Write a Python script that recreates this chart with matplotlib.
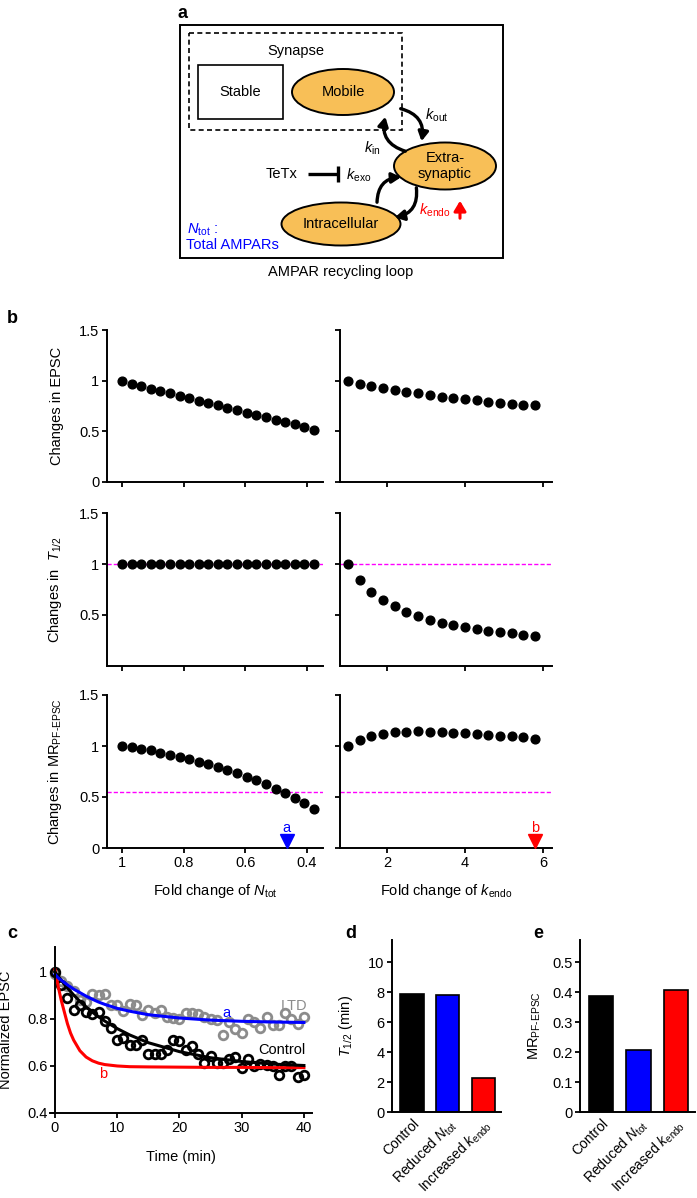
import matplotlib
matplotlib.use("Agg")
import matplotlib.pyplot as plt
from matplotlib.patches import Ellipse, Rectangle, FancyArrowPatch
from matplotlib.ticker import FuncFormatter

plt.rcParams['font.family'] = ['Liberation Sans', 'DejaVu Sans']
plt.rcParams['mathtext.fontset'] = 'custom'
plt.rcParams['mathtext.rm'] = 'Liberation Sans'
plt.rcParams['mathtext.it'] = 'Liberation Sans:italic'
plt.rcParams['mathtext.bf'] = 'Liberation Sans:bold'
plt.rcParams['font.size'] = 10.5
plt.rcParams['axes.linewidth'] = 1.4
plt.rcParams['xtick.major.width'] = 1.3
plt.rcParams['ytick.major.width'] = 1.3
plt.rcParams['xtick.major.size'] = 3.5
plt.rcParams['ytick.major.size'] = 3.5

# ---- panel b data ----
ntot_fold = [1.000, 0.969, 0.938, 0.907, 0.876, 0.845, 0.813, 0.782, 0.751, 0.720, 0.689,
             0.658, 0.627, 0.595, 0.564, 0.533, 0.502, 0.471, 0.440, 0.409, 0.378]
epsc_ntot = [1.00, 0.967, 0.944, 0.918, 0.902, 0.879, 0.853, 0.827, 0.804, 0.778, 0.758,
             0.732, 0.709, 0.683, 0.663, 0.637, 0.614, 0.592, 0.569, 0.546, 0.516]
thalf_ntot = [1.0, 1.0, 1.0, 1.0, 1.0, 1.0, 1.0, 1.0, 1.0, 1.0, 1.0,
              1.0, 1.0, 1.0, 1.0, 1.0, 1.0, 1.0, 1.0, 1.0, 1.0]
mr_ntot = [1.00, 0.987, 0.974, 0.957, 0.934, 0.914, 0.891, 0.868, 0.845, 0.819, 0.793,
           0.766, 0.734, 0.697, 0.664, 0.625, 0.582, 0.539, 0.493, 0.441, 0.382]

kendo_fold = [1.0, 1.3, 1.6, 1.9, 2.2, 2.5, 2.8, 3.1, 3.4, 3.7, 4.0, 4.3, 4.6, 4.9, 5.2, 5.5, 5.8]
epsc_kendo = [1.00, 0.971, 0.948, 0.928, 0.908, 0.892, 0.876, 0.859, 0.843, 0.830, 0.817,
              0.807, 0.794, 0.781, 0.771, 0.761, 0.755]
thalf_kendo = [1.00, 0.84, 0.73, 0.645, 0.585, 0.53, 0.49, 0.451, 0.425, 0.402, 0.385,
               0.363, 0.346, 0.333, 0.320, 0.307, 0.297]
mr_kendo = [1.00, 1.063, 1.099, 1.118, 1.135, 1.141, 1.145, 1.141, 1.138, 1.132, 1.125,
            1.118, 1.109, 1.102, 1.095, 1.086, 1.073]

thalf_ref = 1.0
mr_threshold = 0.55
a_fold = 0.466
b_fold = 5.8

# ---- panel c data ----
time_min = list(range(0, 41))
control_epsc = [1.00, 0.945, 0.89, 0.84, 0.86, 0.83, 0.82, 0.83, 0.79, 0.76, 0.71,
                0.72, 0.69, 0.69, 0.71, 0.65, 0.65, 0.65, 0.666, 0.71, 0.705,
                0.668, 0.687, 0.65, 0.612, 0.643, 0.612, 0.612, 0.63, 0.64, 0.59,
                0.63, 0.598, 0.608, 0.605, 0.60, 0.562, 0.598, 0.598, 0.553, 0.562]
ltd_epsc = [0.99, 0.96, 0.94, 0.92, 0.88, 0.87, 0.905, 0.90, 0.905, 0.86, 0.86,
            0.835, 0.865, 0.86, 0.817, 0.84, 0.825, 0.838, 0.81, 0.806, 0.80,
            0.825, 0.825, 0.82, 0.81, 0.80, 0.795, 0.73, 0.785, 0.756, 0.742,
            0.80, 0.785, 0.763, 0.81, 0.774, 0.774, 0.825, 0.80, 0.778, 0.81]
fit_t = [0, 0.5, 1, 1.5, 2, 2.5, 3, 4, 5, 6, 7, 8, 10, 12, 15, 20, 25, 30, 35, 40]
control_fit = [1.0, 0.982, 0.965, 0.948, 0.932, 0.917, 0.902, 0.875, 0.851, 0.829, 0.809,
               0.791, 0.759, 0.732, 0.699, 0.661, 0.635, 0.619, 0.608, 0.602]
ntot_fit = [0.99, 0.975, 0.965, 0.955, 0.945, 0.936, 0.927, 0.912, 0.897, 0.884, 0.872,
            0.862, 0.845, 0.833, 0.818, 0.804, 0.795, 0.790, 0.787, 0.785]
kendo_fit = [1.01, 0.94, 0.88, 0.83, 0.78, 0.74, 0.71, 0.665, 0.638, 0.622, 0.612,
             0.606, 0.600, 0.597, 0.596, 0.595, 0.594, 0.594, 0.593, 0.593]

# ---- panels d, e data ----
conditions = ['Control', 'Reduced $N_{\\rm tot}$', 'Increased $k_{\\rm endo}$']
bar_colors = ['#000000', '#0000FF', '#FF0000']
thalf_min = [7.87, 7.82, 2.27]
mr_values = [0.388, 0.208, 0.408]

W, H = 697, 1198
fig = plt.figure(figsize=(W / 100, H / 100), dpi=100)


def px_box(x0, y0, x1, y1):
    return [x0 / W, 1 - y1 / H, (x1 - x0) / W, (y1 - y0) / H]


fmt = FuncFormatter(lambda v, p: f'{v:g}')


def clean(ax):
    ax.spines['top'].set_visible(False)
    ax.spines['right'].set_visible(False)
    ax.tick_params(direction='out', length=3.5, pad=2)


# ---------------- panel a (diagram) ----------------
ax_a = fig.add_axes(px_box(170, 0, 510, 280))
ax_a.set_xlim(170, 510)
ax_a.set_ylim(280, 0)
ax_a.axis('off')
orange = '#F8BF57'
ax_a.add_patch(Rectangle((180, 25), 323, 233, fill=False, lw=1.4, ec='k'))
ax_a.add_patch(Rectangle((189, 33), 213, 97, fill=False, lw=1.2, ec='k', ls=(0, (3, 2))))
ax_a.add_patch(Rectangle((198, 65), 85, 54, fill=False, lw=1.2, ec='k'))
ax_a.add_patch(Ellipse((343, 92), 102, 46, fc=orange, ec='k', lw=1.4))
ax_a.add_patch(Ellipse((445, 166), 102, 47, fc=orange, ec='k', lw=1.4))
ax_a.add_patch(Ellipse((341, 224), 119, 43, fc=orange, ec='k', lw=1.4))
ax_a.text(296, 51, 'Synapse', ha='center', va='center')
ax_a.text(240, 92, 'Stable', ha='center', va='center')
ax_a.text(343, 92, 'Mobile', ha='center', va='center')
ax_a.text(445, 166, 'Extra-\nsynaptic', ha='center', va='center', linespacing=1.1)
ax_a.text(341, 224, 'Intracellular', ha='center', va='center')

arrow_kw = dict(arrowstyle='-|>,head_length=0.45,head_width=0.25', lw=2.4,
                color='k', mutation_scale=12)
ax_a.add_patch(FancyArrowPatch((398, 108), (421, 144), connectionstyle='arc3,rad=-0.5', **arrow_kw))
ax_a.add_patch(FancyArrowPatch((408, 152), (386, 114), connectionstyle='arc3,rad=-0.5', **arrow_kw))
ax_a.add_patch(FancyArrowPatch((377, 205), (404, 177), connectionstyle='arc3,rad=-0.5', **arrow_kw))
ax_a.add_patch(FancyArrowPatch((416, 185), (392, 218), connectionstyle='arc3,rad=-0.5', **arrow_kw))

ax_a.text(425, 115, '$k_{\\rm out}$', ha='left', va='center')
ax_a.text(364, 148, '$k_{\\rm in}$', ha='left', va='center')
ax_a.text(266, 174, 'TeTx', ha='left', va='center')
ax_a.plot([308, 337], [174, 174], color='k', lw=2.4, solid_capstyle='butt')
ax_a.plot([338, 338], [166, 182], color='k', lw=2.4, solid_capstyle='butt')
ax_a.text(346, 175, '$k_{\\rm exo}$', ha='left', va='center')
ax_a.text(419, 210, '$k_{\\rm endo}$', ha='left', va='center', color='#FF0000')
ax_a.annotate('', xy=(460, 198), xytext=(460, 221),
              arrowprops=dict(arrowstyle='-|>,head_length=0.5,head_width=0.3',
                              color='#FF0000', lw=2.2, mutation_scale=12))
ax_a.text(187, 230, '$N_{\\rm tot}$ :', ha='left', va='center', color='#0000FF')
ax_a.text(186, 245, 'Total AMPARs', ha='left', va='center', color='#0000FF')
ax_a.text(341, 272, 'AMPAR recycling loop', ha='center', va='center')

# ---------------- panel b ----------------
rows_y = [(330, 482), (513, 666), (695, 848)]
col_left = (107, 323)
col_right = (340, 552)
left_series = [epsc_ntot, thalf_ntot, mr_ntot]
right_series = [epsc_kendo, thalf_kendo, mr_kendo]
ylabels = ['Changes in EPSC', 'Changes in  $T_{1/2}$', 'Changes in MR$_{\\rm PF\u2010EPSC}$']

for r, (y0, y1) in enumerate(rows_y):
    for c, (x0, x1) in enumerate([col_left, col_right]):
        ax = fig.add_axes(px_box(x0, y0, x1, y1))
        clean(ax)
        ax.set_ylim(0, 1.5)
        if c == 0:
            xs, ys = ntot_fold, left_series[r]
            ax.set_xlim(1.049, 0.348)
            ax.set_xticks([1, 0.8, 0.6, 0.4])
        else:
            xs, ys = kendo_fold, right_series[r]
            ax.set_xlim(0.8, 6.23)
            ax.set_xticks([2, 4, 6])
        ax.set_yticks([0, 0.5, 1, 1.5] if r != 1 else [0.5, 1, 1.5])
        ax.xaxis.set_major_formatter(fmt)
        ax.yaxis.set_major_formatter(fmt)
        if r == 1:
            ax.axhline(thalf_ref, color='#FF00FF', lw=1.0, ls=(0, (3, 1.5)), zorder=1)
        if r == 2:
            ax.axhline(mr_threshold, color='#FF00FF', lw=1.0, ls=(0, (3, 1.5)), zorder=1)
        ax.plot(xs, ys, 'o', color='k', ms=6.3, clip_on=False, zorder=3)
        if r < 2:
            ax.set_xticklabels([])
        if c == 1:
            ax.set_yticklabels([])
        else:
            ax.set_ylabel(ylabels[r])
            ax.yaxis.set_label_coords(-0.2, 0.5)
        if r == 2:
            if c == 0:
                ax.set_xlabel('Fold change of $N_{\\rm tot}$')
                ax.plot([a_fold], [0.065], 'v', color='#0000FF', ms=9.5, clip_on=False, zorder=4)
                ax.text(a_fold, 0.2, 'a', color='#0000FF', ha='center', va='center')
            else:
                ax.set_xlabel('Fold change of $k_{\\rm endo}$')
                ax.plot([b_fold], [0.065], 'v', color='#FF0000', ms=9.5, clip_on=False, zorder=4)
                ax.text(b_fold, 0.2, 'b', color='#FF0000', ha='center', va='center')
            ax.xaxis.set_label_coords(0.5, -0.22)

# ---------------- panel c ----------------
ax_c = fig.add_axes(px_box(50, 947, 312, 1113))
clean(ax_c)
ax_c.spines['left'].set_position(('data', 0))
ax_c.set_xlim(-0.8, 41.3)
ax_c.set_ylim(0.4, 1.106)
ax_c.set_xticks([0, 10, 20, 30, 40])
ax_c.set_yticks([0.4, 0.6, 0.8, 1])
ax_c.yaxis.set_major_formatter(fmt)
ax_c.plot(time_min, ltd_epsc, 'o', mfc='none', mec='#8C8C8C', mew=2.0, ms=6.2, clip_on=False)
ax_c.plot(time_min, control_epsc, 'o', mfc='none', mec='k', mew=2.0, ms=6.2, clip_on=False)
ax_c.plot(fit_t, kendo_fit, color='#FF0000', lw=2.2)
ax_c.plot(fit_t, control_fit, color='k', lw=2.2)
ax_c.plot(fit_t, ntot_fit, color='#0000FF', lw=2.2)
ax_c.text(40.5, 0.855, 'LTD', color='#8C8C8C', ha='right', va='center')
ax_c.text(27.5, 0.825, 'a', color='#0000FF', ha='center', va='center')
ax_c.text(40.3, 0.67, 'Control', color='k', ha='right', va='center')
ax_c.text(7.8, 0.565, 'b', color='#FF0000', ha='center', va='center')
ax_c.set_xlabel('Time (min)')
ax_c.set_ylabel('Normalized EPSC')
ax_c.yaxis.set_label_coords(-0.14, 0.5)
ax_c.xaxis.set_label_coords(0.5, -0.22)

# ---------------- panels d, e ----------------
for box, vals, ylim, ticks, ylab, lx in [
        ((392, 940, 501, 1112), thalf_min, (0, 11.5), [0, 2, 4, 6, 8, 10], '$T_{1/2}$ (min)', -0.34),
        ((580, 940, 695, 1112), mr_values, (0, 0.574), [0, 0.1, 0.2, 0.3, 0.4, 0.5], 'MR$_{\\rm PF\u2010EPSC}$', -0.32)]:
    ax = fig.add_axes(px_box(*box))
    clean(ax)
    ax.bar(range(len(vals)), vals, width=0.65, color=bar_colors, edgecolor='k', lw=1.2)
    ax.set_ylim(*ylim)
    ax.set_xlim(-0.56, 2.5)
    ax.set_yticks(ticks)
    ax.yaxis.set_major_formatter(fmt)
    ax.set_xticks(range(len(vals)))
    ax.set_xticklabels(conditions, rotation=45, ha='right', rotation_mode='anchor', fontsize=10)
    ax.tick_params(axis='x', length=0, pad=3)
    ax.set_ylabel(ylab)
    ax.yaxis.set_label_coords(lx, 0.5)

# panel letters
for letter, (x, y) in {'a': (178, 13), 'b': (7, 318), 'c': (7, 933),
                       'd': (345, 933), 'e': (533, 933)}.items():
    fig.text(x / W, 1 - y / H, letter, fontsize=13, fontweight='bold', ha='left', va='center')

fig.savefig('out.png', dpi=100)
